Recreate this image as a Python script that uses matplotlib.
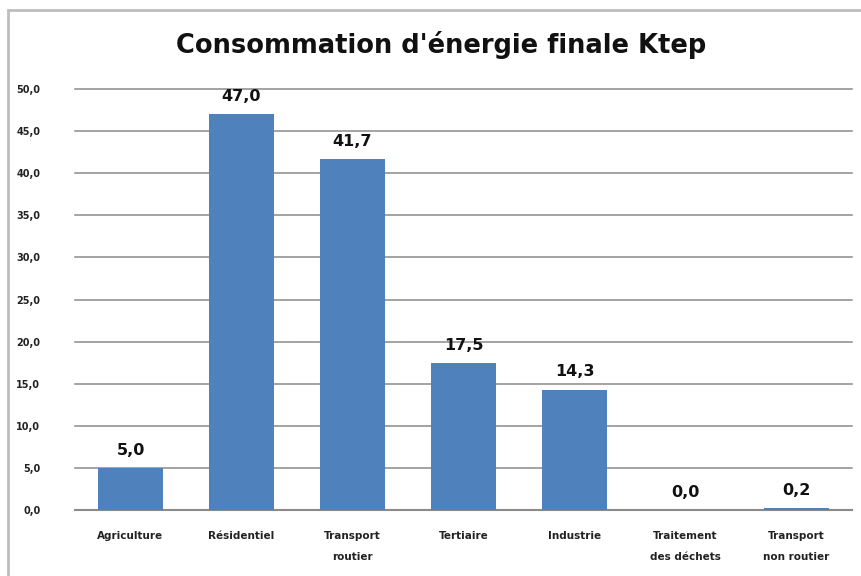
import matplotlib
matplotlib.use("Agg")
import matplotlib.pyplot as plt
from matplotlib.patches import Rectangle

categories = ["Agriculture", "Résidentiel", "Transport\nroutier", "Tertiaire",
              "Industrie", "Traitement\ndes déchets", "Transport\nnon routier"]
values = [5.0, 47.0, 41.7, 17.5, 14.3, 0.0, 0.2]
yticks = [0, 5, 10, 15, 20, 25, 30, 35, 40, 45, 50]

W, H = 861, 576
fig = plt.figure(figsize=(W / 100, H / 100), dpi=100)
fig.patch.set_facecolor("white")

# chart border (only left and top visible)
fig.add_artist(Rectangle((8 / W, -0.1), 1.2, 1 - 10 / H + 0.1, transform=fig.transFigure,
                         fill=False, edgecolor="#bdbdbd", linewidth=2.0))

ax = fig.add_axes([75 / W, 1 - 510 / H, (852 - 75) / W, (510 - 89) / H])
x = list(range(len(categories)))
ax.bar(x, values, width=0.58, color="#4F81BD", zorder=3)
ax.set_xlim(-0.5, len(categories) - 0.5)
ax.set_ylim(0, 50)
ax.set_yticks(yticks)
ax.set_yticklabels([f"{v:.1f}".replace(".", ",") for v in yticks],
                   fontsize=7, fontweight="bold", color="#222222")
ax.set_xticks(x)
ax.set_xticklabels(categories, fontsize=7.5, fontweight="bold", color="#222222",
                   linespacing=2.4)
ax.tick_params(axis="both", length=0)
ax.tick_params(axis="y", pad=25)
ax.tick_params(axis="x", pad=15)
for s in ["top", "right", "left"]:
    ax.spines[s].set_visible(False)
ax.spines["bottom"].set_color("#8a8a8a")
ax.spines["bottom"].set_linewidth(1.5)
ax.yaxis.grid(True, color="#8a8a8a", linewidth=1.1, zorder=0)
for gl in ax.get_ygridlines():
    gl.set_clip_on(False)
ax.set_axisbelow(True)

for xi, v in zip(x, values):
    ax.text(xi, v + 1.2, f"{v:.1f}".replace(".", ","), ha="center", va="bottom",
            fontsize=11.5, fontweight="bold", color="#111111", zorder=4)

fig.text(441 / W, 1 - 45 / H, "Consommation d'énergie finale Ktep", ha="center",
         va="center", fontsize=18.5, fontweight="bold", color="#111111")

fig.savefig("out.png", dpi=100, facecolor="white")
